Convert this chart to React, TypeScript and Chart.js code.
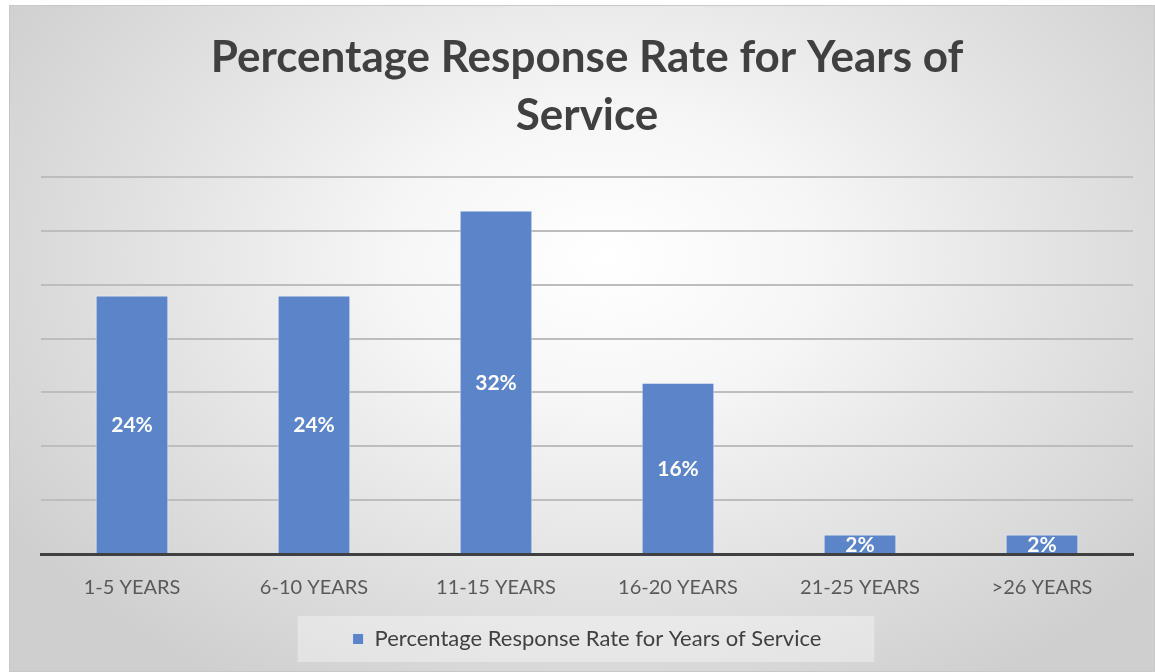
import React, { useEffect, useRef } from "react";
import { Chart, registerables } from "chart.js";

Chart.register(...registerables);

const categories = ["1-5 YEARS", "6-10 YEARS", "11-15 YEARS", "16-20 YEARS", "21-25 YEARS", ">26 YEARS"];
const values = [24, 24, 31.9, 15.9, 1.8, 1.8];
const valueLabels = ["24%", "24%", "32%", "16%", "2%", "2%"];
const seriesName = "Percentage Response Rate for Years of Service";
const titleLines = ["Percentage Response Rate for Years of", "Service"];

const FONT = "Lato, 'Open Sans', sans-serif";

const legendBgPlugin = {
  id: "legendBg",
  beforeDraw(chart: any) {
    const lg = chart.legend;
    if (!lg || !lg.legendHitBoxes || !lg.legendHitBoxes.length) return;
    const hb = lg.legendHitBoxes[0];
    const ctx = chart.ctx;
    ctx.save();
    ctx.fillStyle = "rgba(255,255,255,0.35)";
    ctx.fillRect(hb.left - 55, hb.top - 12, hb.width + 108, hb.height + 24);
    ctx.restore();
  },
};

const barLabelPlugin = {
  id: "barLabels",
  afterDatasetsDraw(chart: any) {
    const ctx = chart.ctx;
    const meta = chart.getDatasetMeta(0);
    ctx.save();
    ctx.fillStyle = "#ffffff";
    ctx.font = `bold 21px ${FONT}`;
    ctx.textAlign = "center";
    ctx.textBaseline = "middle";
    meta.data.forEach((bar: any, i: number) => {
      const p = bar.getProps(["x", "y", "base"], true);
      ctx.fillText(valueLabels[i], p.x, (p.y + p.base) / 2 + 1);
    });
    ctx.restore();
  },
};

export default function App() {
  const ref = useRef<HTMLCanvasElement>(null);
  useEffect(() => {
    if (!ref.current) return;
    const chart = new Chart(ref.current, {
      type: "bar",
      data: {
        labels: categories,
        datasets: [
          {
            label: seriesName,
            data: values,
            backgroundColor: "#5b84c9",
            borderColor: "rgba(235,240,250,0.8)",
            borderWidth: 1,
            barPercentage: 0.4,
            categoryPercentage: 1,
          },
        ],
      },
      options: {
        animation: false,
        responsive: false,
        maintainAspectRatio: false,
        layout: { padding: { left: 31, right: 21, top: 0, bottom: 11 } },
        plugins: {
          title: {
            display: true,
            text: titleLines,
            color: "#404040",
            font: { family: FONT, size: 44, weight: "bold", lineHeight: 1.32 },
            padding: { top: 23, bottom: 32 },
          },
          legend: {
            display: true,
            position: "bottom",
            labels: {
              boxWidth: 11,
              boxHeight: 11,
              color: "#404040",
              font: { family: FONT, size: 22 },
              padding: 6,
            },
          },
          tooltip: { enabled: false },
        },
        scales: {
          x: {
            grid: { display: false, drawTicks: false },
            border: { display: true, color: "#404040", width: 3 },
            ticks: { color: "#595959", font: { family: FONT, size: 20 }, padding: 22 },
          },
          y: {
            min: 0,
            max: 35,
            ticks: { display: false, stepSize: 5 },
            grid: {
              drawTicks: false,
              color: (c: any) => (c.tick && c.tick.value === 0 ? "rgba(0,0,0,0)" : "#bdbdbd"),
              lineWidth: 2,
            },
            border: { display: false },
          },
        },
      },
      plugins: [legendBgPlugin, barLabelPlugin],
    });
    return () => chart.destroy();
  }, []);

  return (
    <div
      style={{
        position: "absolute",
        left: 9,
        top: 5,
        width: 1146,
        height: 667,
        border: "1px solid #c8c8c8",
        boxSizing: "border-box",
        background:
          "radial-gradient(ellipse 62% 75% at 52% 38%, #ffffff 0%, #f6f6f6 30%, #e2e2e2 65%, #cfcfcf 100%)",
      }}
    >
      <canvas ref={ref} width={1144} height={665} style={{ display: "block" }} />
    </div>
  );
}
